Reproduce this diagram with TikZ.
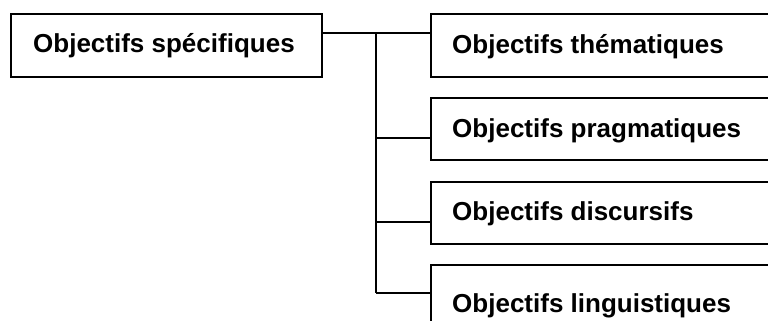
\documentclass[tikz,border=0pt]{standalone}
\usepackage{fontspec}
\setmainfont{Liberation Sans}
\begin{document}
\begin{tikzpicture}[x=1pt,y=-1pt,
  box/.style={draw=black,line width=1.6pt,rectangle,inner sep=0pt,anchor=north west},
  lbl/.style={anchor=base west,inner sep=0pt,font=\fontsize{26}{30}\selectfont\bfseries},
  conn/.style={line width=1.6pt,draw=black}]
\useasboundingbox (0,0) rectangle (768,321);
\clip (0,0) rectangle (768,321);
\node[box,minimum width=311pt,minimum height=63pt] (L) at (10,13) {};
\node[box,minimum width=400pt,minimum height=63pt] (T1) at (430,13) {};
\node[box,minimum width=400pt,minimum height=62pt] (T2) at (430,97) {};
\node[box,minimum width=400pt,minimum height=62pt] (T3) at (430,181) {};
\node[box,minimum width=400pt,minimum height=80pt] (T4) at (430,264) {};
\node[lbl] (tL) at (33,52.5) {Objectifs spécifiques};
\node[lbl] (t1) at (452,53) {Objectifs thématiques};
\node[lbl] (t2) at (452,137) {Objectifs pragmatiques};
\node[lbl] (t3) at (452,220) {Objectifs discursifs};
\node[lbl] (t4) at (452,312) {Objectifs linguistiques};
\coordinate (j1) at (376,33);
\coordinate (j2) at (376,138);
\coordinate (j3) at (376,222);
\coordinate (j4) at (376,293);
\draw[conn] (L.east |- j1) -- (T1.west |- j1);
\draw[conn] (j1) -- (j4);
\draw[conn] (j2) -- (T2.west |- j2);
\draw[conn] (j3) -- (T3.west |- j3);
\draw[conn] (j4) -- (T4.west |- j4);
\end{tikzpicture}
\end{document}
